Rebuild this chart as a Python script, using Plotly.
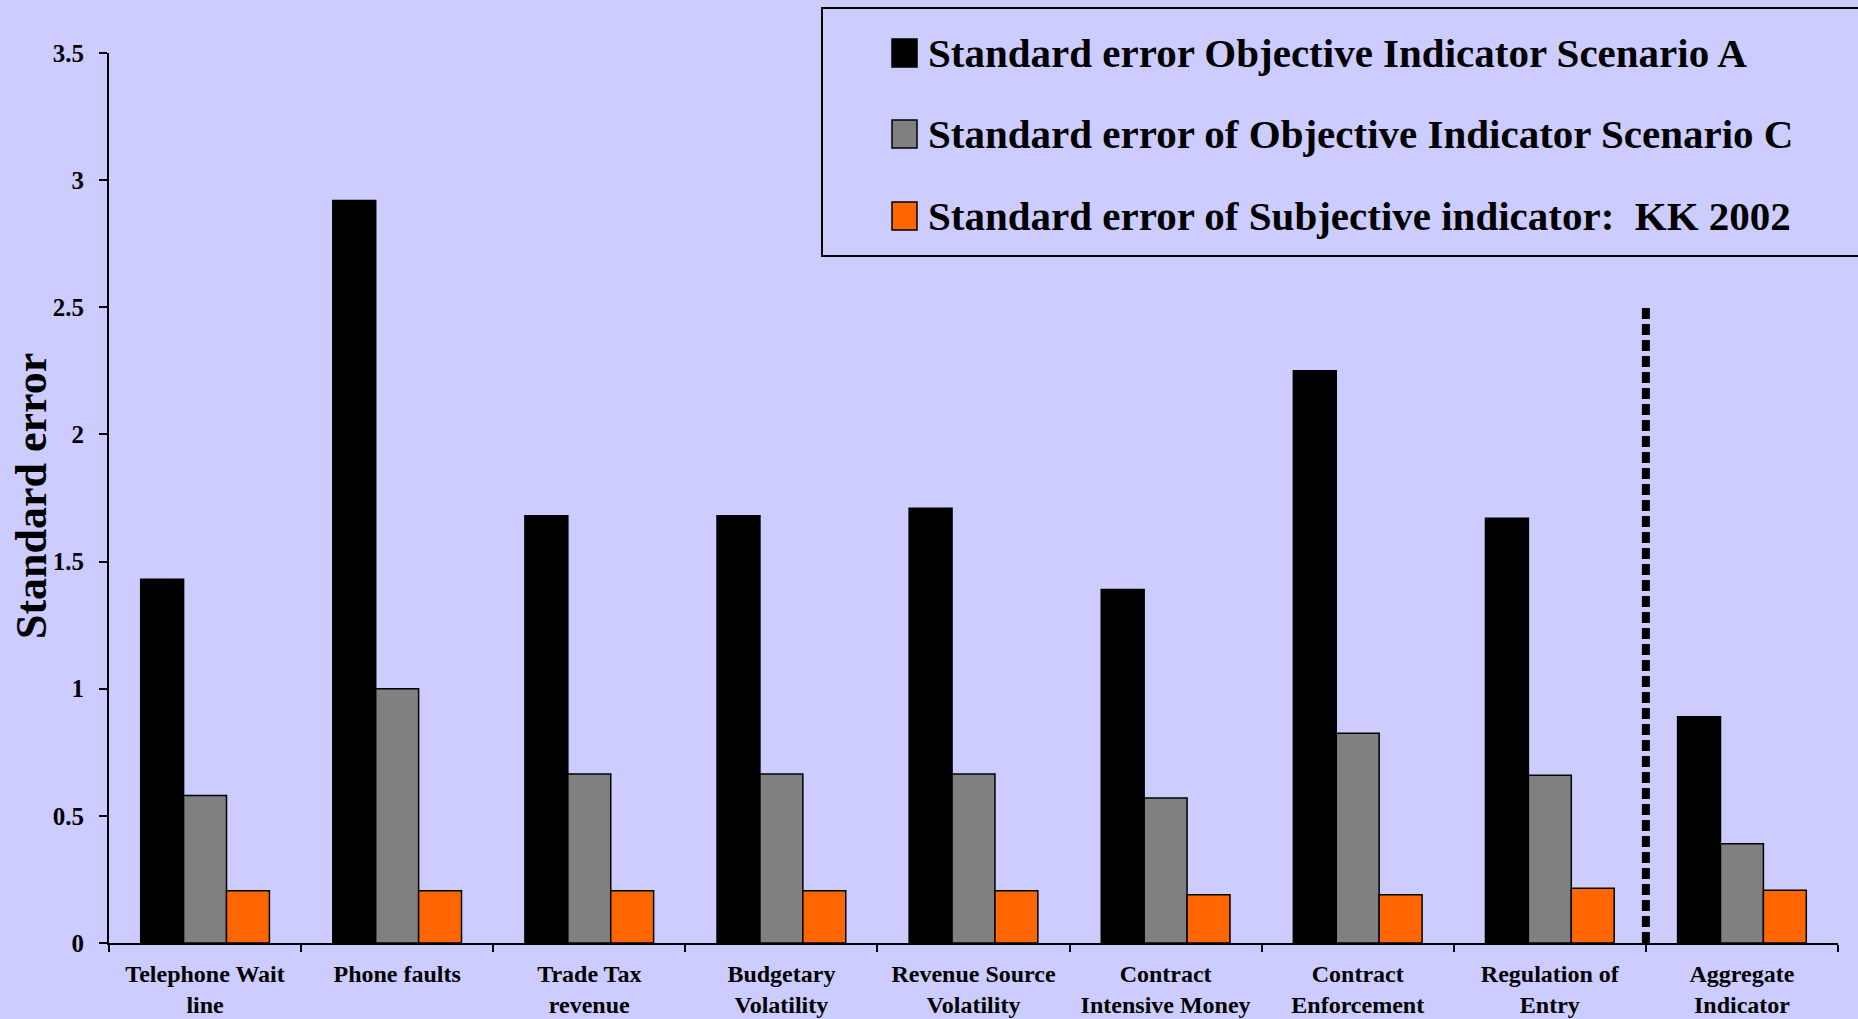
import plotly.graph_objects as go

# Categories (two-line tick labels) and the three standard-error series
categories = [
    "Telephone Wait<br>line",
    "Phone faults",
    "Trade Tax<br>revenue",
    "Budgetary<br>Volatility",
    "Revenue Source<br>Volatility",
    "Contract<br>Intensive Money",
    "Contract<br>Enforcement",
    "Regulation of<br>Entry",
    "Aggregate<br>Indicator",
]
scenario_a = [1.43, 2.92, 1.68, 1.68, 1.71, 1.39, 2.25, 1.67, 0.89]
scenario_c = [0.58, 1.00, 0.665, 0.665, 0.665, 0.57, 0.825, 0.66, 0.39]
subjective_kk = [0.205, 0.205, 0.205, 0.205, 0.205, 0.19, 0.19, 0.215, 0.207]

series_names = [
    "Standard error Objective Indicator Scenario A",
    "Standard error of Objective Indicator Scenario C",
    "Standard error of Subjective indicator:  KK 2002",
]
series_colors = ["#000000", "#808080", "#FF6600"]
y_ticks = [0, 0.5, 1, 1.5, 2, 2.5, 3, 3.5]
y_tick_text = ["0", "0.5", "1", "1.5", "2", "2.5", "3", "3.5"]
separator_height = 2.5  # dotted divider before the aggregate indicator

W, H = 1858, 1019
ML, MR, MT, MB = 109, 20, 53, 76
PW, PH = W - ML - MR, H - MT - MB
BG = "#CCCCFF"
FONT = "Liberation Serif, Times New Roman, serif"


def px_x(x):
    return (x - ML) / PW


def px_y(y):
    return (H - MB - y) / PH


fig = go.Figure()
for name, vals, col in zip(series_names, [scenario_a, scenario_c, subjective_kk], series_colors):
    fig.add_trace(go.Bar(
        x=categories, y=vals, name=name,
        marker=dict(color=col, line=dict(color="#000000", width=1.5)),
        showlegend=False,
    ))

# Dotted divider between the individual indicators and the aggregate
fig.add_shape(type="line", xref="x", yref="y",
              x0=len(categories) - 1.5, x1=len(categories) - 1.5,
              y0=0, y1=separator_height,
              line=dict(color="#000000", width=8, dash="11px,5px"))

# Legend box drawn by hand so the swatches can be large
fig.add_shape(type="rect", xref="paper", yref="paper",
              x0=px_x(822), x1=px_x(1870), y0=px_y(256), y1=px_y(8),
              line=dict(color="#000000", width=2), fillcolor=BG, layer="above")
row_y = [53, 134, 216]
for name, col, ry in zip(series_names, series_colors, row_y):
    fig.add_shape(type="rect", xref="paper", yref="paper",
                  x0=px_x(892), x1=px_x(917), y0=px_y(ry + 14), y1=px_y(ry - 14),
                  line=dict(color="#000000", width=1.5), fillcolor=col, layer="above")
    fig.add_annotation(xref="paper", yref="paper", x=px_x(926), y=px_y(ry),
                       xanchor="left", yanchor="middle", showarrow=False,
                       text="<b>" + name + "</b>",
                       font=dict(family=FONT, size=41, color="#000000"))

# Y-axis title
fig.add_annotation(xref="paper", yref="paper", x=px_x(31), y=px_y(496),
                   xanchor="center", yanchor="middle", showarrow=False,
                   textangle=-90, text="<b>Standard error</b>",
                   font=dict(family=FONT, size=44, color="#000000"))

fig.update_layout(
    width=W, height=H,
    margin=dict(l=ML, r=MR, t=MT, b=MB),
    paper_bgcolor=BG, plot_bgcolor=BG,
    barmode="group", bargap=0.33, bargroupgap=0,
    font=dict(family=FONT, color="#000000"),
)
fig.update_xaxes(
    type="category", automargin=False,
    showline=True, linecolor="#000000", linewidth=2,
    ticks="outside", ticklen=7, tickwidth=2, tickcolor="#000000",
    tickson="boundaries", showgrid=False, zeroline=False,
    tickfont=dict(family=FONT, size=24, color="#000000"),
    ticklabelstandoff=8,
    tickvals=categories, ticktext=["<b>" + c.replace("<br>", "</b><br><b>") + "</b>" for c in categories],
)
fig.update_yaxes(
    range=[0, 3.5], automargin=False,
    showline=True, linecolor="#000000", linewidth=2,
    ticks="outside", ticklen=8, tickwidth=2, tickcolor="#000000",
    showgrid=False, zeroline=False,
    tickvals=y_ticks, ticktext=["<b>" + t + "</b>" for t in y_tick_text],
    tickfont=dict(family=FONT, size=25, color="#000000"),
    ticklabelstandoff=10,
)

fig.write_html("out.html")
